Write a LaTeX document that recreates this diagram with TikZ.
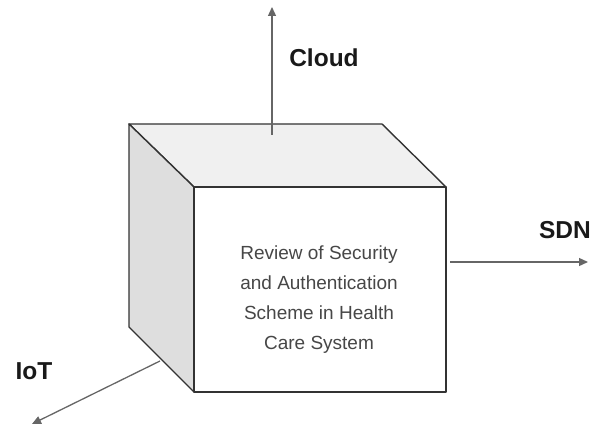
\documentclass[tikz,border=0pt]{standalone}
\usepackage{fontspec}
\setmainfont{Liberation Sans}
\usetikzlibrary{arrows.meta}
\begin{document}
\begin{tikzpicture}[x=1pt,y=-1pt,
  edge/.style={draw=black!80, line width=1.4pt, line join=round},
  conn/.style={draw=black!60, line width=1.3pt, -{Triangle[length=9pt,width=8pt]}},
  lbl/.style={font=\fontsize{24.5}{30}\selectfont\bfseries, text=black!90},
  body/.style={font=\fontsize{19}{30}\selectfont, text=black!72, align=center}
]
\useasboundingbox (0,0) rectangle (592,425);
% cube corners
\coordinate (BTL) at (129,124);
\coordinate (BTR) at (382,124);
\coordinate (FTL) at (194,187);
\coordinate (FTR) at (446,187);
\coordinate (FBL) at (194,392);
\coordinate (BBL) at (129,327);
% faces
\filldraw[edge, fill=black!6] (BTL) -- (BTR) -- (FTR) -- (FTL) -- cycle;
\filldraw[edge, fill=black!13] (BTL) -- (FTL) -- (FBL) -- (BBL) -- cycle;
\node[edge, fill=white, minimum width=252pt, minimum height=205pt, inner sep=0pt] (front) at (320,289.5) {};
\node[body] (title) at (319,300) {Review of Security\\and Authentication\\Scheme in Health\\Care System};
% connector end points
\coordinate (cloudS) at (272,135);
\coordinate (cloudE) at (272,7);
\coordinate (sdnS) at (450,262);
\coordinate (sdnE) at (588,262);
\coordinate (iotS) at (160,361);
\coordinate (iotE) at (32,424);
\draw[conn] (cloudS) -- (cloudE);
\draw[conn] (sdnS) -- (sdnE);
\draw[conn] (iotS) -- (iotE);
% labels
\node[lbl] (cloud) at (324,58) {Cloud};
\node[lbl] (sdn) at (565,230) {SDN};
\node[lbl] (iot) at (34,371) {IoT};
\end{tikzpicture}
\end{document}
